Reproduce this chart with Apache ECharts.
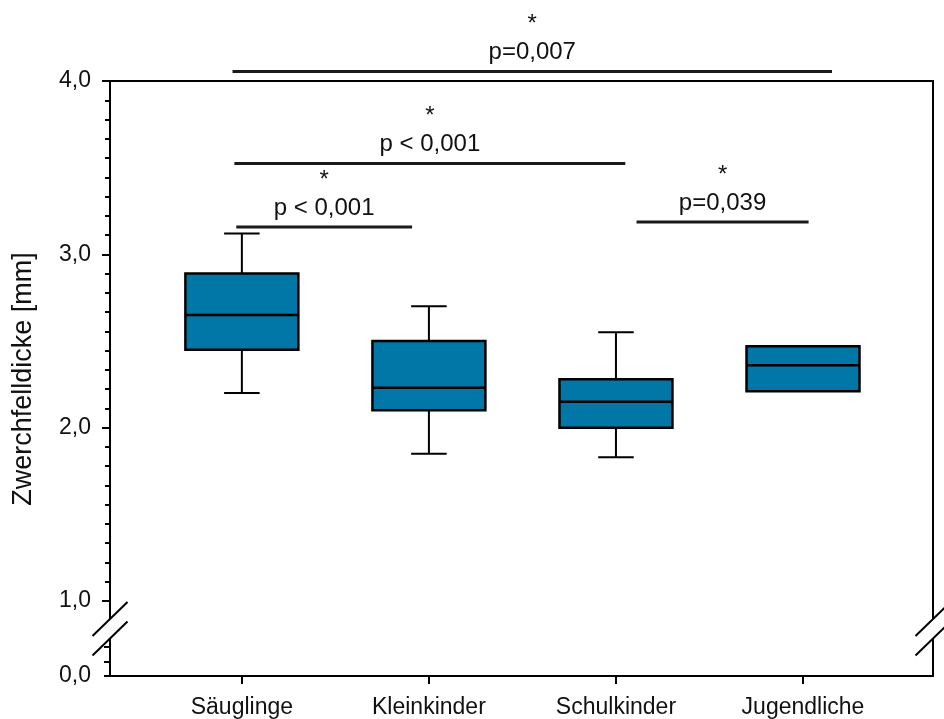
<!DOCTYPE html>
<html><head><meta charset="utf-8">
<script src="https://cdn.jsdelivr.net/npm/echarts@6/dist/echarts.min.js"></script>
<style>html,body{margin:0;padding:0;background:#fff}#c{width:944px;height:719px}</style>
</head><body><div id="c"></div>
<script>
// ---- data ----
const categories  = ['Säuglinge', 'Kleinkinder', 'Schulkinder', 'Jugendliche'];
const whiskerLow  = [2.20, 1.85, 1.83, null];
const q1          = [2.45, 2.10, 2.00, 2.21];
const median      = [2.65, 2.23, 2.15, 2.36];
const q3          = [2.89, 2.50, 2.28, 2.47];
const whiskerHigh = [3.12, 2.70, 2.55, null];

const yTickValues    = [1, 2, 3, 4];
const yTickLabels    = ['1,0', '2,0', '3,0', '4,0'];
const yLowTickValues = [0, 0.1, 0.2];
const yLowLabelValues = [0];
const yLowTickLabels = ['0,0'];

// significance brackets (x in category units, y in mm)
const sigFrom = [-0.05, -0.04, -0.03, 2.11];
const sigTo   = [3.155, 2.05, 0.91, 3.03];
const sigY    = [4.055, 3.524, 3.158, 3.186];
const sigStar = ['*', '*', '*', '*'];
const sigText = ['p=0,007', 'p < 0,001', 'p < 0,001', 'p=0,039'];

const yTitle = 'Zwerchfelldicke [mm]';

// ---- styling constants ----
const FONT = '"Liberation Sans", Arial, sans-serif';
const BOX_COLOR = '#0077a7';
const X_MIN = -0.705, X_MAX = 3.695;
const BOX_W = 0.604, CAP_W = 0.19;
const BREAK_A = 0.395, BREAK_B = 0.26; // break positions on lower axis scale

const chart = echarts.init(document.getElementById('c'), null, {renderer: 'canvas'});

function renderBox(params, api) {
  const x = api.value(0);
  const vq1 = api.value(1), vmed = api.value(2), vq3 = api.value(3);
  const vlo = api.value(4), vhi = api.value(5);
  const half = api.size([BOX_W, 0])[0] / 2;
  const capHalf = api.size([CAP_W, 0])[0] / 2;
  const pQ1 = api.coord([x, vq1]), pQ3 = api.coord([x, vq3]), pMed = api.coord([x, vmed]);
  const ls = {stroke: '#000', lineWidth: 2};
  const ch = [];
  if (vhi != null && isFinite(vhi)) {
    const p = api.coord([x, vhi]);
    ch.push({type: 'line', shape: {x1: p[0], y1: p[1], x2: pQ3[0], y2: pQ3[1]}, style: ls});
    ch.push({type: 'line', shape: {x1: p[0] - capHalf, y1: p[1], x2: p[0] + capHalf, y2: p[1]}, style: ls});
  }
  if (vlo != null && isFinite(vlo)) {
    const p = api.coord([x, vlo]);
    ch.push({type: 'line', shape: {x1: p[0], y1: p[1], x2: pQ1[0], y2: pQ1[1]}, style: ls});
    ch.push({type: 'line', shape: {x1: p[0] - capHalf, y1: p[1], x2: p[0] + capHalf, y2: p[1]}, style: ls});
  }
  ch.push({type: 'rect', shape: {x: pQ3[0] - half, y: pQ3[1], width: 2 * half, height: pQ1[1] - pQ3[1]},
           style: {fill: BOX_COLOR, stroke: '#000', lineWidth: 2.5}});
  ch.push({type: 'line', shape: {x1: pMed[0] - half, y1: pMed[1], x2: pMed[0] + half, y2: pMed[1]},
           style: {stroke: '#000', lineWidth: 2.5}});
  return {type: 'group', children: ch};
}

function renderSig(params, api) {
  const i = params.dataIndex;
  const a = api.coord([api.value(0), api.value(2)]);
  const b = api.coord([api.value(1), api.value(2)]);
  const mid = (a[0] + b[0]) / 2;
  return {type: 'group', children: [
    {type: 'line', shape: {x1: a[0], y1: a[1], x2: b[0], y2: b[1]}, style: {stroke: '#1a1a1a', lineWidth: 3}},
    {type: 'text', style: {text: sigText[i], x: mid, y: a[1] - 19, align: 'center', verticalAlign: 'middle',
      font: '24px ' + FONT, fill: '#111'}},
    {type: 'text', style: {text: sigStar[i], x: mid, y: a[1] - 47, align: 'center', verticalAlign: 'middle',
      font: '24px ' + FONT, fill: '#111'}}
  ]};
}

function renderBreak(params, api) {
  const pa = api.coord([api.value(0), BREAK_A]);
  const pb = api.coord([api.value(0), BREAK_B]);
  const cx = pa[0];
  const dx = 17.5, dy = 17;
  return {type: 'group', children: [
    {type: 'polygon', shape: {points: [[cx - 6, pa[1] + 6], [cx + 6, pa[1] - 6], [cx + 6, pb[1] - 6], [cx - 6, pb[1] + 6]]},
      style: {fill: '#fff'}},
    {type: 'line', shape: {x1: cx - dx, y1: pa[1] + dy, x2: cx + dx, y2: pa[1] - dy}, style: {stroke: '#000', lineWidth: 2}},
    {type: 'line', shape: {x1: cx - dx, y1: pb[1] + dy, x2: cx + dx, y2: pb[1] - dy}, style: {stroke: '#000', lineWidth: 2}}
  ]};
}

const axisLineStyle = {color: '#000', width: 2};
const catIdx = categories.map((c, i) => i);

const option = {
  animation: false,
  backgroundColor: '#fff',
  grid: [
    {left: 110, right: 11, top: 81, bottom: 118},
    {left: 110, right: 11, top: 601, bottom: 43}
  ],
  xAxis: [
    {gridIndex: 0, type: 'value', position: 'top', min: X_MIN, max: X_MAX,
      axisLine: {show: true, onZero: false, lineStyle: axisLineStyle},
      axisTick: {show: false}, axisLabel: {show: false}, splitLine: {show: false}},
    {gridIndex: 1, type: 'value', position: 'bottom', min: X_MIN, max: X_MAX,
      axisLine: {show: true, onZero: false, lineStyle: axisLineStyle},
      axisTick: {show: true, customValues: catIdx, length: 8, inside: false, lineStyle: axisLineStyle},
      axisLabel: {show: true, customValues: catIdx, formatter: v => categories[Math.round(v)],
        margin: 20, fontSize: 23, color: '#111', fontFamily: FONT},
      splitLine: {show: false}}
  ],
  yAxis: [
    {gridIndex: 0, type: 'value', position: 'left', min: 1, max: 4, interval: 1,
      axisLine: {show: true, onZero: false, lineStyle: axisLineStyle},
      axisTick: {show: true, length: 8, lineStyle: axisLineStyle},
      minorTick: {show: true, splitNumber: 9, length: 5, lineStyle: axisLineStyle},
      axisLabel: {show: true, formatter: v => yTickLabels[yTickValues.indexOf(v)] || '',
        margin: 19, fontSize: 23, color: '#111', fontFamily: FONT},
      splitLine: {show: false}, minorSplitLine: {show: false}},
    {gridIndex: 0, type: 'value', position: 'right', min: 1, max: 4,
      axisLine: {show: true, onZero: false, lineStyle: axisLineStyle},
      axisTick: {show: false}, axisLabel: {show: false}, splitLine: {show: false}},
    {gridIndex: 1, type: 'value', position: 'left', min: 0, max: 0.52,
      axisLine: {show: true, onZero: false, lineStyle: axisLineStyle},
      axisTick: {show: true, customValues: yLowTickValues, length: 6, lineStyle: axisLineStyle},
      axisLabel: {show: true, customValues: yLowLabelValues,
        formatter: v => yLowTickLabels[yLowLabelValues.indexOf(v)] || '',
        margin: 19, fontSize: 23, color: '#111', fontFamily: FONT},
      splitLine: {show: false}},
    {gridIndex: 1, type: 'value', position: 'right', min: 0, max: 0.52,
      axisLine: {show: true, onZero: false, lineStyle: axisLineStyle},
      axisTick: {show: false}, axisLabel: {show: false}, splitLine: {show: false}}
  ],
  graphic: [
    {type: 'text', x: 24, y: 379, rotation: Math.PI / 2,
      style: {text: yTitle, align: 'center', verticalAlign: 'middle', font: '27px ' + FONT, fill: '#111'}}
  ],
  series: [
    {type: 'custom', name: 'box', xAxisIndex: 0, yAxisIndex: 0, clip: false,
      renderItem: renderBox,
      encode: {x: 0, y: [1, 2, 3]},
      data: categories.map((c, i) => [i, q1[i], median[i], q3[i],
        whiskerLow[i] == null ? NaN : whiskerLow[i], whiskerHigh[i] == null ? NaN : whiskerHigh[i]])},
    {type: 'custom', name: 'sig', xAxisIndex: 0, yAxisIndex: 0, clip: false,
      renderItem: renderSig, encode: {x: [0, 1], y: 2},
      data: sigFrom.map((f, i) => [f, sigTo[i], sigY[i]])},
    {type: 'custom', name: 'break', xAxisIndex: 1, yAxisIndex: 2, clip: false, z: 5,
      renderItem: renderBreak, encode: {x: 0},
      data: [[X_MIN], [X_MAX]]}
  ]
};
chart.setOption(option);
</script>
</body></html>
